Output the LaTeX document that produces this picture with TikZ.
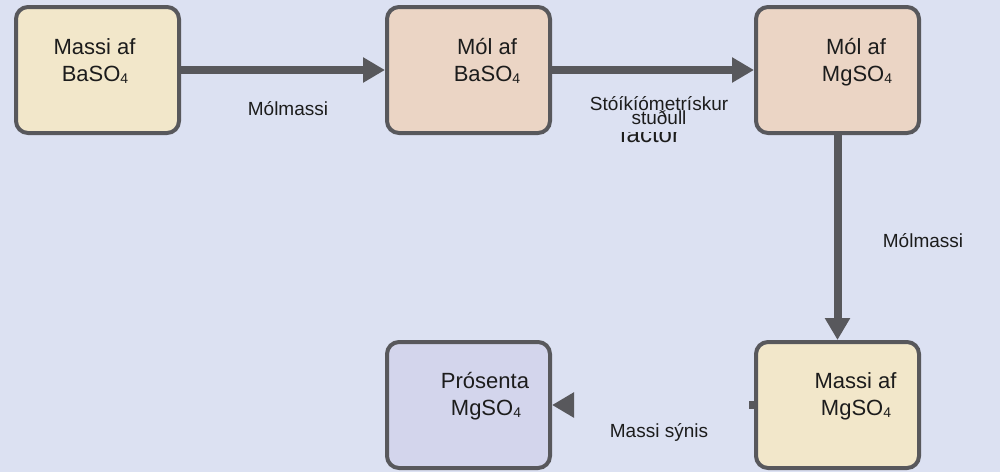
\documentclass[tikz,border=0pt]{standalone}
\usepackage{fontspec}
\setmainfont{Liberation Sans}
\usetikzlibrary{arrows.meta}
\definecolor{bgc}{HTML}{DCE1F2}
\definecolor{cream}{HTML}{F2E7CA}
\definecolor{peach}{HTML}{EBD5C5}
\definecolor{lav}{HTML}{D3D5EC}
\definecolor{edge}{HTML}{58585C}
\definecolor{txt}{HTML}{1C1C1C}
\newcommand{\subsc}[1]{\raisebox{-0.1em}{\fontsize{14}{14}\selectfont #1}}
\tikzset{
  box/.style={draw=edge, line width=4pt, rounded corners=12pt, minimum width=163pt, minimum height=126pt, inner sep=0pt},
  boxtext/.style={anchor=base, text=txt, font=\fontsize{22}{27}\selectfont, inner sep=0pt},
  lbl/.style={anchor=base, text=txt, font=\fontsize{19}{19}\selectfont, inner sep=0pt},
  conn/.style={draw=edge, line width=8pt, -{Triangle[length=22pt,width=24pt]}},
}
\begin{document}
\begin{tikzpicture}[x=1pt,y=-1pt]
\fill[bgc] (0,0) rectangle (1000,472);
\useasboundingbox (0,0) rectangle (1000,472);
% boxes
\node[box, fill=cream] (b1) at (97.5,70) {};
\node[box, fill=peach] (b2) at (468.5,70) {};
\node[box, fill=peach] (b3) at (837.5,70) {};
\node[box, fill=cream] (b4) at (837.5,405) {};
\node[box, fill=lav] (b5) at (468.5,405) {};
% box texts
\node[boxtext] (t1a) at (94.5,54) {Massi af};
\node[boxtext] (t1b) at (95,81) {BaSO\subsc{4}};
\node[boxtext] (t2a) at (487,54) {Mól af};
\node[boxtext] (t2b) at (487,81) {BaSO\subsc{4}};
\node[boxtext] (t3a) at (856,54) {Mól af};
\node[boxtext] (t3b) at (857,81) {MgSO\subsc{4}};
\node[boxtext] (t4a) at (855.5,388) {Massi af};
\node[boxtext] (t4b) at (856,415) {MgSO\subsc{4}};
\node[boxtext] (t5a) at (485,388) {Prósenta};
\node[boxtext] (t5b) at (486,415) {MgSO\subsc{4}};
% connectors
\draw[conn] (b1) -- (b2);
\draw[conn] (b2) -- (b3);
\draw[conn] (b3) -- (b4);
\coordinate (hb) at ([xshift=21pt]b5.east);
\draw[conn] (hb) -- (b5.east);
\coordinate (st) at ([xshift=-5pt]b4.west);
\draw[draw=edge, line width=8pt] (b4.west) -- (st);
% labels
\node[lbl] (l1) at (288,115) {Mólmassi};
\begin{scope}
\clip (600,132) rectangle (710,160);
\node[anchor=base, text=txt, font=\fontsize{24}{24}\selectfont, inner sep=0pt] (lf) at (650,142) {factor};
\end{scope}
\node[lbl] (l2a) at (659,110) {Stóíkíómetrískur};
\node[lbl] (l2b) at (659,124) {stuðull};
\node[lbl] (l3) at (923,247) {Mólmassi};
\node[lbl] (l4) at (659,437) {Massi sýnis};
\end{tikzpicture}
\end{document}
